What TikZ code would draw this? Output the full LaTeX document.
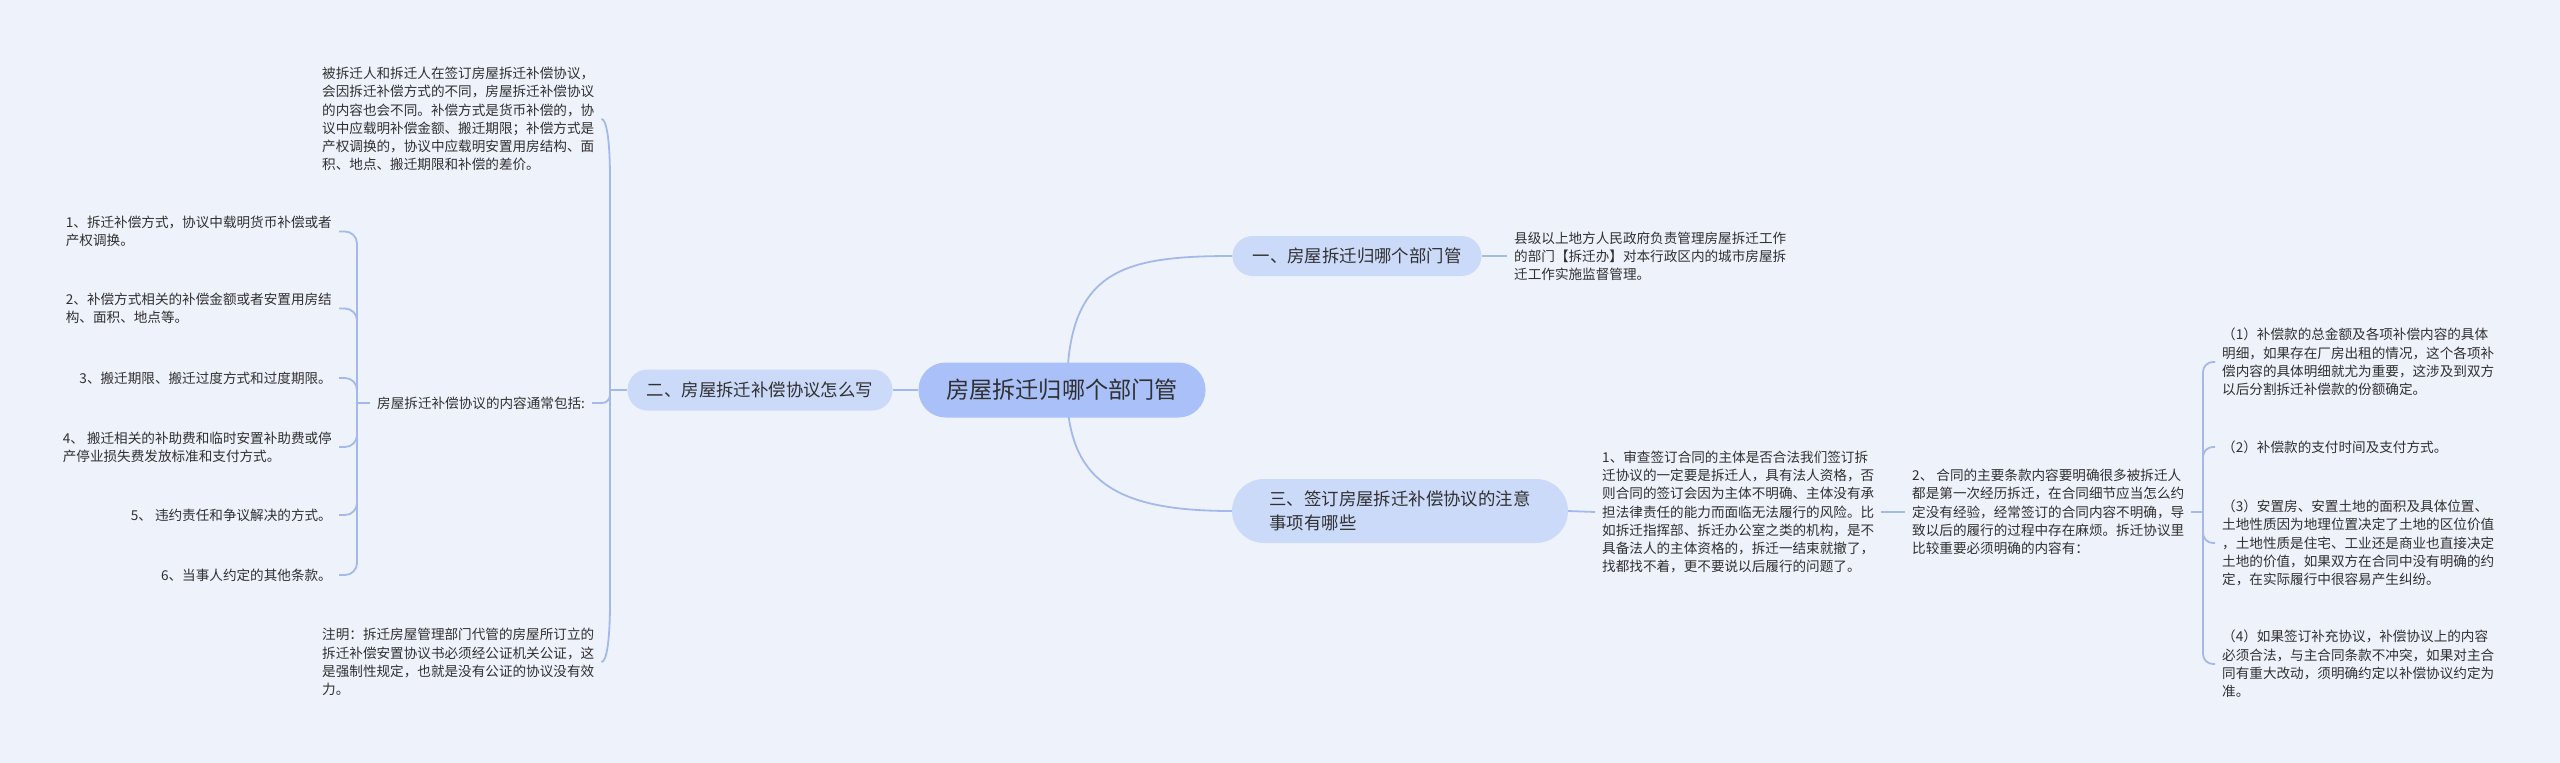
\documentclass[tikz,border=0pt]{standalone}
\usepackage{fontspec}
\setmainfont{Noto Sans CJK SC}
\usetikzlibrary{calc}
\definecolor{bgc}{RGB}{238,242,251}
\definecolor{rootc}{RGB}{169,192,249}
\definecolor{brc}{RGB}{204,218,250}
\definecolor{linec}{RGB}{163,185,236}
\definecolor{txt}{RGB}{48,48,48}
\pgfdeclarelayer{paper}
\pgfdeclarelayer{bg}
\pgfsetlayers{paper,bg,main}
\tikzset{
  leaf/.style={font=\fontsize{13.6pt}{18.2pt}\selectfont, text=txt, align=left, inner xsep=7pt, inner ysep=2pt},
  rootbox/.style={fill=rootc, rounded corners=27pt, minimum width=287pt, minimum height=55pt, font=\fontsize{23.2pt}{28pt}\selectfont, text=txt, inner sep=0pt},
  brbox/.style={fill=brc, font=\fontsize{17.4pt}{24pt}\selectfont, text=txt, align=left, inner sep=0pt},
  conn/.style={draw=linec, line width=1.8pt},
}
\begin{document}
\begin{tikzpicture}[x=1pt,y=-1pt]
\begin{pgfonlayer}{paper}
\fill[bgc] (0,0) rectangle (2560,763);
\end{pgfonlayer}
\useasboundingbox (0,0) rectangle (2560,763);

% root and branches
\node[rootbox] (root) at (1062,390) {房屋拆迁归哪个部门管};
\node[brbox, rounded corners=20pt, minimum width=265pt, minimum height=41pt] (b2) at (760,390) {二、房屋拆迁补偿协议怎么写};
\node[brbox, rounded corners=20pt, minimum width=249pt, minimum height=40pt] (b1) at (1357,256) {一、房屋拆迁归哪个部门管};
\node[brbox, rounded corners=32pt, minimum width=336pt, minimum height=64pt] (b3) at (1400,511) {三、签订房屋拆迁补偿协议的注意\\事项有哪些};

% left side
\node[leaf, anchor=west] (top) at (315,119) {被拆迁人和拆迁人在签订房屋拆迁补偿协议，\\会因拆迁补偿方式的不同，房屋拆迁补偿协议\\的内容也会不同。补偿方式是货币补偿的，协\\议中应载明补偿金额、搬迁期限；补偿方式是\\产权调换的，协议中应载明安置用房结构、面\\积、地点、搬迁期限和补偿的差价。};
\node[leaf, anchor=west] (label) at (370,403) {房屋拆迁补偿协议的内容通常包括:};
\node[leaf, anchor=west] (note) at (315,662) {注明：拆迁房屋管理部门代管的房屋所订立的\\拆迁补偿安置协议书必须经公证机关公证，这\\是强制性规定，也就是没有公证的协议没有效\\力。};
\node[leaf, anchor=east] (i1) at (339,231.5) {1、拆迁补偿方式，协议中载明货币补偿或者\\产权调换。};
\node[leaf, anchor=east] (i2) at (339,308.5) {2、补偿方式相关的补偿金额或者安置用房结\\构、面积、地点等。};
\node[leaf, anchor=east] (i3) at (339,378) {3、搬迁期限、搬迁过度方式和过度期限。};
\node[leaf, anchor=east] (i4) at (339,447) {4、 搬迁相关的补助费和临时安置补助费或停\\产停业损失费发放标准和支付方式。};
\node[leaf, anchor=east] (i5) at (339,515) {5、 违约责任和争议解决的方式。};
\node[leaf, anchor=east] (i6) at (339,575) {6、当事人约定的其他条款。};

% right side
\node[leaf, anchor=west] (l1) at (1507,256) {县级以上地方人民政府负责管理房屋拆迁工作\\的部门【拆迁办】对本行政区内的城市房屋拆\\迁工作实施监督管理。};
\node[leaf, anchor=west] (l31) at (1595,512) {1、审查签订合同的主体是否合法我们签订拆\\迁协议的一定要是拆迁人，具有法人资格，否\\则合同的签订会因为主体不明确、主体没有承\\担法律责任的能力而面临无法履行的风险。比\\如拆迁指挥部、拆迁办公室之类的机构，是不\\具备法人的主体资格的，拆迁一结束就撤了，\\找都找不着，更不要说以后履行的问题了。};
\node[leaf, anchor=west] (l32) at (1905,512) {2、 合同的主要条款内容要明确很多被拆迁人\\都是第一次经历拆迁，在合同细节应当怎么约\\定没有经验，经常签订的合同内容不明确，导\\致以后的履行的过程中存在麻烦。拆迁协议里\\比较重要必须明确的内容有：};
\node[leaf, anchor=west] (c1) at (2215,362) {（1）补偿款的总金额及各项补偿内容的具体\\明细，如果存在厂房出租的情况，这个各项补\\偿内容的具体明细就尤为重要，这涉及到双方\\以后分割拆迁补偿款的份额确定。};
\node[leaf, anchor=west] (c2) at (2215,447) {（2）补偿款的支付时间及支付方式。};
\node[leaf, anchor=west] (c3) at (2215,543) {（3）安置房、安置土地的面积及具体位置、\\土地性质因为地理位置决定了土地的区位价值\\，土地性质是住宅、工业还是商业也直接决定\\土地的价值，如果双方在合同中没有明确的约\\定，在实际履行中很容易产生纠纷。};
\node[leaf, anchor=west] (c4) at (2215,664) {（4）如果签订补充协议，补偿协议上的内容\\必须合法，与主合同条款不冲突，如果对主合\\同有重大改动，须明确约定以补偿协议约定为\\准。};

\coordinate (jL) at (610,390);
\coordinate (jI) at (357,403);
\coordinate (jR) at (2203,512);

\begin{pgfonlayer}{bg}
\draw[conn] (root.west) -- (b2.east);
\draw[conn] ($(root.center)+(5,0)$) .. controls ($(root.center)+(5,-120)$) and ($(b1.west)+(-110,0)$) .. (b1.west);
\draw[conn] ($(root.center)+(5,0)$) .. controls ($(root.center)+(5,95)$) and ($(b3.west)+(-110,0)$) .. (b3.west);
\draw[conn] (b1.east) -- (l1.west);
\draw[conn] (b3.east) -- (l31.west);
\draw[conn] (l31.east) -- (l32.west);
% outer left brace
\draw[conn] (b2.west) -- (jL);
\draw[conn] (jL) -- ($(jL|-top.east)+(0,60)$) .. controls ($(jL|-top.east)+(0,20)$) and ($(top.east)+(5,0)$) .. (top.east);
\draw[conn, rounded corners=8pt] (jL) |- (label.east);
\draw[conn] (jL) -- ($(jL|-note.east)+(0,-60)$) .. controls ($(jL|-note.east)+(0,-20)$) and ($(note.east)+(5,0)$) .. (note.east);
% inner left brace
\draw[conn] (label.west) -- (jI);
\foreach \n in {i1,i2,i3,i4,i5,i6} {\draw[conn, rounded corners=12pt] (jI) |- (\n.east);}
% right brace
\draw[conn] (l32.east) -- (jR);
\foreach \n in {c1,c2,c3,c4} {\draw[conn, rounded corners=10pt] (jR) |- (\n.west);}
\end{pgfonlayer}
\end{tikzpicture}
\end{document}
